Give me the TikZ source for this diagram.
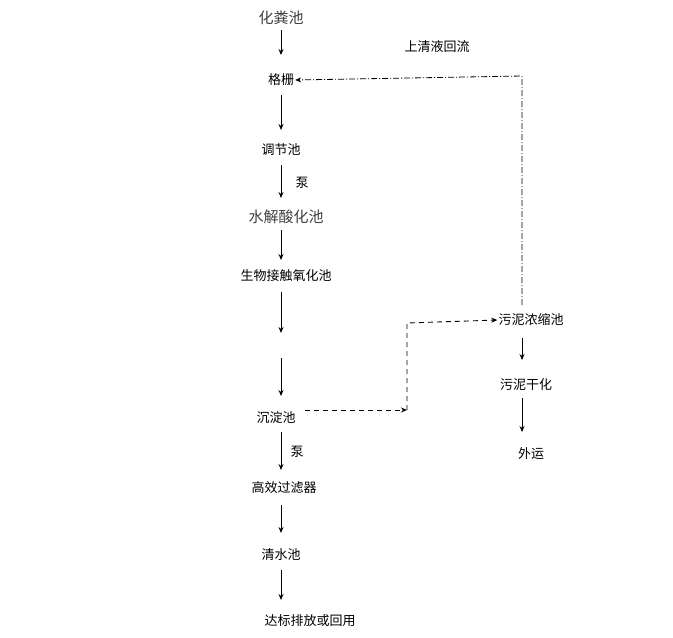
\documentclass[tikz,border=0pt]{standalone}
\usepackage{fontspec}
\setmainfont{Noto Sans CJK SC}
\usetikzlibrary{arrows.meta}
\begin{document}
\begin{tikzpicture}[x=1pt,y=-1pt,
  lbl/.style={font=\fontsize{13}{15}\selectfont,inner sep=1pt},
  big/.style={font=\fontsize{15}{17}\selectfont,inner sep=1pt,text=black!75},
  arr/.style={-{Stealth[length=6pt,width=5pt]},line width=0.9pt},
  darr/.style={-{Stealth[length=6pt,width=5pt]},line width=0.9pt,dash pattern=on 5pt off 4pt},
  ddarr/.style={-{Stealth[length=6pt,width=5pt]},line width=0.8pt,dash pattern=on 6pt off 2pt on 1pt off 2pt}]
\useasboundingbox[fill=white] (0,0) rectangle (673,638);
\node[big] (a) at (281,18) {化粪池};
\node[lbl] (b) at (281,80) {格栅};
\node[lbl] (c) at (281,150) {调节池};
\node[big] (d) at (286,217) {水解酸化池};
\node[lbl] (e) at (286,276) {生物接触氧化池};
\coordinate (m1) at (281,333);
\coordinate (m2) at (281,358);
\node[lbl] (f) at (276,418) {沉淀池};
\node[lbl] (g) at (284,488) {高效过滤器};
\node[lbl] (h) at (281,555) {清水池};
\node[lbl] (i) at (310,621) {达标排放或回用};
\node[lbl] (p1) at (302,183) {泵};
\node[lbl] (p2) at (297,452) {泵};
\node[lbl] (s1) at (531,320) {污泥浓缩池};
\node[lbl] (s2) at (526,385) {污泥干化};
\node[lbl] (s3) at (531,454) {外运};
\node[lbl] (r) at (437,47) {上清液回流};
\draw[arr] (281,30) -- (281,55);
\draw[arr] (281,95) -- (281,130);
\draw[arr] (281,165) -- (281,198);
\draw[arr] (281,230) -- (281,260);
\draw[arr] (281,292) -- (m1);
\draw[arr] (m2) -- (281,396);
\draw[arr] (281,432) -- (281,470);
\draw[arr] (281,505) -- (281,533);
\draw[arr] (281,570) -- (281,600);
\draw[arr] (522,338) -- (522,360);
\draw[arr] (522,398) -- (522,432);
\coordinate (k1) at (407,410);
\coordinate (k2) at (407,323);
\draw[darr] (305,410) -- (k1);
\draw[darr] (k1) -- (k2) -- (s1.west);
\draw[ddarr] (522,305) -- (522,76) -- (b.east);
\end{tikzpicture}
\end{document}
